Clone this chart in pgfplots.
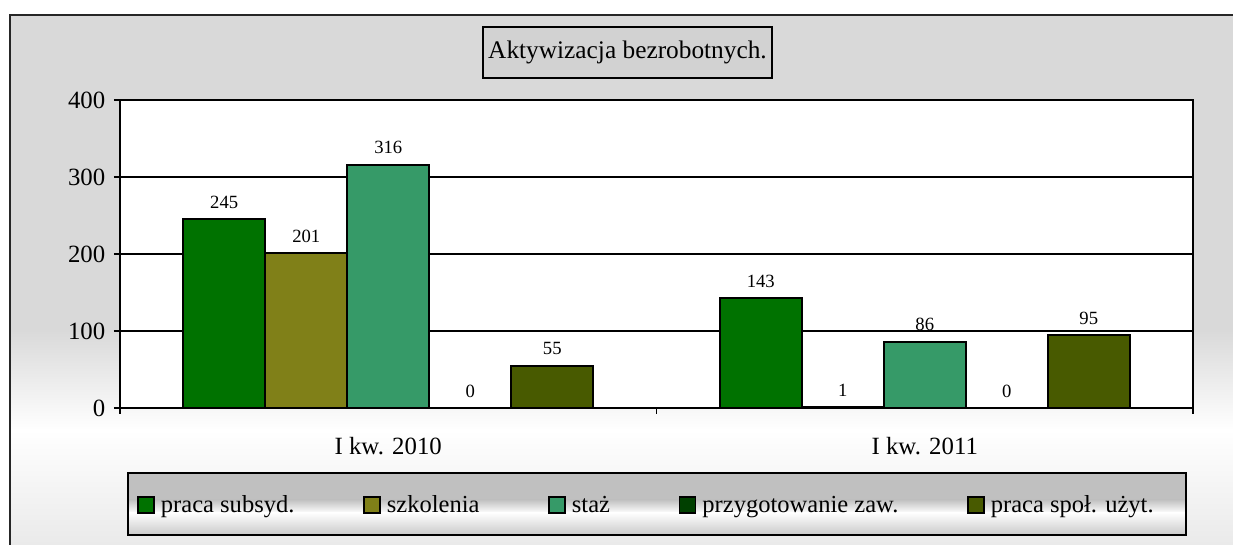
\documentclass[border=0pt]{standalone}
\usepackage{fontspec}
\setmainfont{Liberation Serif}
\usepackage{pgfplots}
\pgfplotsset{compat=1.18}
\definecolor{cA}{RGB}{0,114,0}
\definecolor{cB}{RGB}{128,128,24}
\definecolor{cC}{RGB}{54,154,104}
\definecolor{cD}{RGB}{0,64,0}
\definecolor{cE}{RGB}{72,90,0}
\definecolor{bgA}{RGB}{217,217,217}
\definecolor{bgB}{RGB}{232,232,232}
\definecolor{lgA}{RGB}{192,192,192}
\definecolor{ttl}{RGB}{210,210,210}
\begin{document}
\begin{tikzpicture}[x=0.75pt,y=0.75pt]
\clip (0,0) rectangle (1233,545);
% outer background
\fill[bgA] (10,214) rectangle (1245,530);
\shade[top color=bgA, bottom color=white] (10,115) rectangle (1245,215);
\shade[top color=white, bottom color=bgB] (10,-10) rectangle (1245,115.5);
\draw[line width=1.5pt, black!85] (10,-10) -- (10,530) -- (1250,530);
% title box
\node[draw=black, line width=1.5pt, fill=ttl, minimum width=216.75pt, minimum height=38.25pt, inner sep=0pt,
      font=\fontsize{19}{22}\selectfont] at (627.5,492.5) {Aktywizacja bezrobotnych.};
% legend box
\fill[lgA] (128,45) rectangle (1186,72);
\shade[top color=lgA, bottom color=white] (128,32) rectangle (1186,45.5);
\shade[top color=white, bottom color=lgA!85] (128,10) rectangle (1186,32.5);
\draw[line width=1.5pt] (128,10) rectangle (1186,72);
\begin{axis}[
  at={(90pt,102.75pt)}, anchor=south west,
  scale only axis, width=804.75pt, height=231pt,
  ybar=0pt, bar width=61.5pt,
  xmin=-0.5, xmax=1.5, ymin=0, ymax=400,
  axis background/.style={fill=white},
  axis line style={line width=1.5pt},
  ytick={0,100,200,300,400},
  ymajorgrids, grid style={black, line width=1.1pt},
  ytick pos=left, xtick pos=bottom, tick align=outside,
  major tick length=4.5pt, tick style={black, line width=1.3pt},
  xtick={-0.5,0.5,1.5}, xticklabels={},
  extra x ticks={0,1}, extra x tick labels={I kw. 2010, I kw. 2011},
  extra x tick style={major tick length=0pt, grid=none, tick style={draw=none},
     xticklabel style={yshift=-18.5pt}},
  tick label style={font=\fontsize{18.6}{21}\selectfont},
  /pgf/number format/assume math mode=true,
  yticklabel style={xshift=-3pt},
  nodes near coords,
  every node near coord/.append style={font=\fontsize{14}{16}\selectfont, yshift=4pt},
  legend columns=5,
  legend image code/.code={\draw[#1, draw=black, line width=1.3pt] (0pt,-6pt) rectangle (12pt,6pt);},
  legend style={at={(0.0158,-0.315)}, anchor=west, draw=none, fill=none, inner sep=0pt,
     font=\fontsize{18.4}{21}\selectfont, nodes={inner sep=1.5pt},
     /tikz/every odd column/.append style={column sep=3pt},
     /tikz/every even column/.append style={column sep=50pt}},
]
\addplot[fill=cA, draw=black, line width=1.3pt] coordinates {(0,245) (1,143)};
\addplot[fill=cB, draw=black, line width=1.3pt] coordinates {(0,201) (1,1)};
\addplot[fill=cC, draw=black, line width=1.3pt] coordinates {(0,316) (1,86)};
\addplot[fill=cD, draw=black, line width=1.3pt] coordinates {(0,0) (1,0)};
\addplot[fill=cE, draw=black, line width=1.3pt] coordinates {(0,55) (1,95)};
\legend{praca subsyd., szkolenia, staż, przygotowanie zaw., praca społ. użyt.}
\end{axis}
\end{tikzpicture}
\end{document}
